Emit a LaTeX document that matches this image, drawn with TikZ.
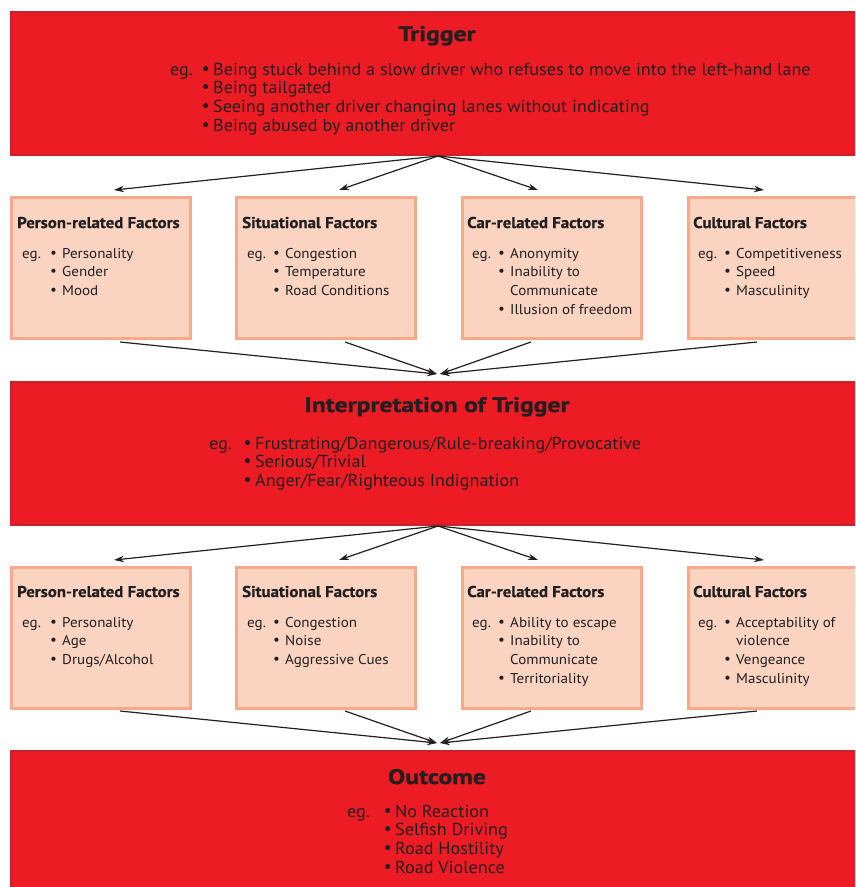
\documentclass[tikz,border=0pt]{standalone}
\usepackage{fontspec}
\usepackage{graphicx}
\setmainfont{PT Sans}
\newfontfamily\bodyfont[FakeStretch=1.05]{PT Sans}
\newfontfamily\smallfont[FakeStretch=1.06]{PT Sans}
\newfontfamily\titlefont[FakeStretch=1.22,FakeBold=1.2]{PT Sans}
\newfontfamily\subtitlefont[FakeStretch=1.08,FakeBold=0.8]{PT Sans}
\newfontfamily\bulletfont{DejaVu Sans}
\usetikzlibrary{arrows.meta}
\definecolor{bigred}{HTML}{ED1C24}
\definecolor{bigredline}{HTML}{C6232C}
\definecolor{peach}{HTML}{FBD3C1}
\definecolor{peachline}{HTML}{F8A98B}
\definecolor{ink}{HTML}{231F20}
\newcommand\bul{\makebox[10pt][l]{\hspace{-2.6pt}{\bulletfont\symbol{"2022}}}}
\newcommand\bulsm{\makebox[11pt][l]{\hspace{-1.8pt}{\bulletfont\symbol{"2022}}}}
\begin{document}
\begin{tikzpicture}[x=1pt,y=-1pt,
  redbox/.style={fill=bigred, draw=bigredline, line width=2pt, anchor=north west, inner sep=0pt, minimum width=890pt, minimum height=143pt},
  peachbox/.style={fill=peach, draw=peachline, line width=2.8pt, anchor=north west, inner sep=0pt, minimum width=179pt, minimum height=141pt},
  bigtitle/.style={anchor=base, inner sep=0pt, text=ink, font=\fontsize{21}{24}\titlefont\bfseries},
  smalltitle/.style={anchor=base west, inner sep=0pt, text=ink, font=\fontsize{15.6}{18}\subtitlefont\bfseries},
  bigbody/.style={anchor=base west, inner sep=0pt, text=ink, font=\fontsize{17.3}{18.7}\bodyfont},
  smallbody/.style={anchor=base west, inner sep=0pt, text=ink, font=\fontsize{14.2}{18.7}\smallfont},
  link/.style={draw=ink, line width=1.2pt, -{Stealth[length=10pt,width=6.5pt]}}]
\useasboundingbox (0,0) rectangle (855,887);
\begin{scope}
\clip (0,0) rectangle (855,887);
% big red boxes
\node[redbox] (trig) at (10,11) {};
\node[redbox] (interp) at (10,381) {};
\node[redbox] (outc) at (10,750) {};
% factor boxes row 1
\node[peachbox] (pa) at (10,196) {};
\node[peachbox] (sa) at (235,196) {};
\node[peachbox] (ca) at (461,196) {};
\node[peachbox] (ua) at (687,196) {};
% factor boxes row 2
\node[peachbox] (pb) at (10,566) {};
\node[peachbox] (sb) at (235,566) {};
\node[peachbox] (cb) at (461,566) {};
\node[peachbox] (ub) at (687,566) {};
\end{scope}

% Trigger
\node[bigtitle] (trig-t) at (437,41) {Trigger};
\node[bigbody] (trig-eg) at (170,75) {eg.};
\node[bigbody] (trig-l) at (203,75) {\begin{tabular}[t]{@{}l@{}}
\bul Being stuck behind a slow driver who refuses to move into the left-hand lane\\
\bul Being tailgated\\
\bul Seeing another driver changing lanes without indicating\\
\bul Being abused by another driver\end{tabular}};

% Interpretation
\node[bigtitle] (interp-t) at (437,412) {Interpretation of Trigger};
\node[bigbody] (interp-eg) at (209,449) {eg.};
\node[bigbody] (interp-l) at (245,449) {\begin{tabular}[t]{@{}l@{}}
\bul Frustrating/Dangerous/Rule-breaking/Provocative\\
\bul Serious/Trivial\\
\bul Anger/Fear/Righteous Indignation\end{tabular}};

% Outcome
\node[bigtitle] (outc-t) at (437,784) {Outcome};
\node[bigbody] (outc-eg) at (347,817) {eg.};
\node[bigbody] (outc-l) at (385,817) {\begin{tabular}[t]{@{}l@{}}
\bul No Reaction\\
\bul Selfish Driving\\
\bul Road Hostility\\
\bul Road Violence\end{tabular}};

% Row 1 texts
\node[smalltitle] (pa-t) at (17,228) {Person-related Factors};
\node[smallbody] (pa-eg) at (22,258) {eg.};
\node[smallbody] (pa-l) at (51,258) {\begin{tabular}[t]{@{}l@{}}
\bulsm Personality\\ \bulsm Gender\\ \bulsm Mood\end{tabular}};

\node[smalltitle] (sa-t) at (242,228) {Situational Factors};
\node[smallbody] (sa-eg) at (247,258) {eg.};
\node[smallbody] (sa-l) at (274,258) {\begin{tabular}[t]{@{}l@{}}
\bulsm Congestion\\ \bulsm Temperature\\ \bulsm Road Conditions\end{tabular}};

\node[smalltitle] (ca-t) at (467,228) {Car-related Factors};
\node[smallbody] (ca-eg) at (472,258) {eg.};
\node[smallbody] (ca-l) at (499,258) {\begin{tabular}[t]{@{}l@{}}
\bulsm Anonymity\\ \bulsm Inability to\\ \hspace*{11pt}Communicate\\ \bulsm Illusion of freedom\end{tabular}};

\node[smalltitle] (ua-t) at (693,228) {Cultural Factors};
\node[smallbody] (ua-eg) at (698,258) {eg.};
\node[smallbody] (ua-l) at (725,258) {\begin{tabular}[t]{@{}l@{}}
\bulsm Competitiveness\\ \bulsm Speed\\ \bulsm Masculinity\end{tabular}};

% Row 2 texts
\node[smalltitle] (pb-t) at (17,597) {Person-related Factors};
\node[smallbody] (pb-eg) at (22,627) {eg.};
\node[smallbody] (pb-l) at (51,627) {\begin{tabular}[t]{@{}l@{}}
\bulsm Personality\\ \bulsm Age\\ \bulsm Drugs/Alcohol\end{tabular}};

\node[smalltitle] (sb-t) at (242,597) {Situational Factors};
\node[smallbody] (sb-eg) at (247,627) {eg.};
\node[smallbody] (sb-l) at (274,627) {\begin{tabular}[t]{@{}l@{}}
\bulsm Congestion\\ \bulsm Noise\\ \bulsm Aggressive Cues\end{tabular}};

\node[smalltitle] (cb-t) at (467,597) {Car-related Factors};
\node[smallbody] (cb-eg) at (472,627) {eg.};
\node[smallbody] (cb-l) at (499,627) {\begin{tabular}[t]{@{}l@{}}
\bulsm Ability to escape\\ \bulsm Inability to\\ \hspace*{11pt}Communicate\\ \bulsm Territoriality\end{tabular}};

\node[smalltitle] (ub-t) at (693,597) {Cultural Factors};
\node[smallbody] (ub-eg) at (698,627) {eg.};
\node[smallbody] (ub-l) at (725,627) {\begin{tabular}[t]{@{}l@{}}
\bulsm Acceptability of\\ \hspace*{11pt}violence\\ \bulsm Vengeance\\ \bulsm Masculinity\end{tabular}};

% connector points
\coordinate (trig-out) at (438,156);
\coordinate (pa-in) at (114,190);
\coordinate (sa-in) at (339,190);
\coordinate (ca-in) at (538,190);
\coordinate (ua-in) at (764,190);
\coordinate (pa-out) at (120,342);
\coordinate (sa-out) at (345,342);
\coordinate (ca-out) at (531,342);
\coordinate (ua-out) at (757,342);
\coordinate (interp-inL) at (437,374);
\coordinate (interp-inR) at (440,374);

\coordinate (interp-out) at (438,526);
\coordinate (pb-in) at (114,560);
\coordinate (sb-in) at (339,560);
\coordinate (cb-in) at (538,560);
\coordinate (ub-in) at (764,560);
\coordinate (pb-out) at (120,711);
\coordinate (sb-out) at (345,711);
\coordinate (cb-out) at (531,711);
\coordinate (ub-out) at (757,711);
\coordinate (outc-inL) at (437,743);
\coordinate (outc-inR) at (440,743);

\foreach \b in {pa,sa,ca,ua} \draw[link] (trig-out) -- (\b-in);
\foreach \b in {pa,sa} \draw[link] (\b-out) -- (interp-inL);
\foreach \b in {ca,ua} \draw[link] (\b-out) -- (interp-inR);
\foreach \b in {pb,sb,cb,ub} \draw[link] (interp-out) -- (\b-in);
\foreach \b in {pb,sb} \draw[link] (\b-out) -- (outc-inL);
\foreach \b in {cb,ub} \draw[link] (\b-out) -- (outc-inR);
\end{tikzpicture}
\end{document}
